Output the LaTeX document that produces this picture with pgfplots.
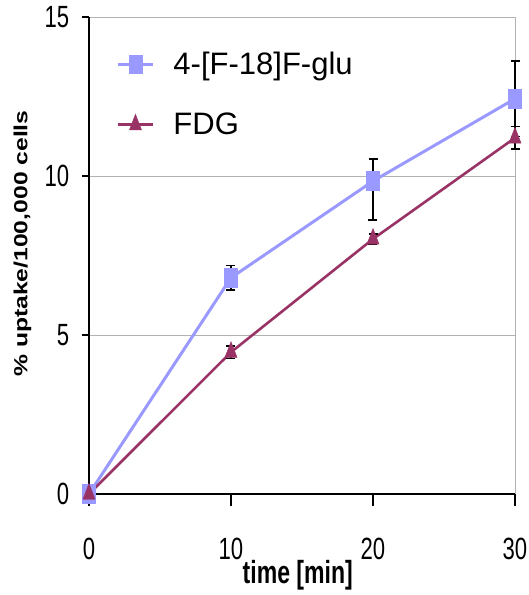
\documentclass[border=0pt]{standalone}
\usepackage{pgfplots}
\pgfplotsset{compat=1.18}
\usepackage{fontspec}
\setmainfont{Liberation Sans}
\newfontfamily\ticknarrow{Liberation Sans}[FakeStretch=0.72]
\newfontfamily\xlabfont{Liberation Sans}[FakeStretch=0.72]
\newfontfamily\ylabfont{Liberation Sans}[FakeStretch=1.3]
\definecolor{glu}{HTML}{9999FF}
\definecolor{fdg}{HTML}{993366}

\begin{document}
\begin{tikzpicture}
\useasboundingbox (-89pt,-101pt) rectangle (440pt,494pt);
\begin{axis}[
    scale only axis,
    width=426pt, height=477pt,
    xmin=0, xmax=30, ymin=0, ymax=15,
    xtick={0,10,20,30}, ytick={0,5,10,15},
    axis x line*=bottom, axis y line*=left,
    axis line style={black, line width=1.4pt},
    ymajorgrids,
    grid style={gray!60, line width=0.9pt},
    extra x ticks={30}, extra x tick labels={},
    extra x tick style={grid=major},
    tick align=outside,
    xtick style={black, line width=1.4pt, /pgfplots/major tick length=12pt},
    ytick style={black, line width=1.4pt, /pgfplots/major tick length=7pt},
    ticklabel style={font=\ticknarrow\fontsize{30.7}{32}\selectfont},
    xticklabel style={yshift=-36pt},
    yticklabel style={xshift=-12pt},
    /pgf/number format/assume math mode=true,
    xlabel={time [min]},
    xlabel style={font=\xlabfont\bfseries\fontsize{32}{34}\selectfont,
        at={(axis description cs:0.49,0)}, anchor=north, yshift=-66pt, inner sep=0pt},
    ylabel={\% uptake/100,000 cells},
    ylabel style={font=\ylabfont\bfseries\fontsize{19}{21}\selectfont,
        at={(axis description cs:-0.156,0.525)}, anchor=center, rotate=0},
    legend style={draw=none, fill=none, at={(axis description cs:0.057,0.935)},
        anchor=north west, font=\fontsize{31}{36}\selectfont, row sep=33pt},
    legend cell align=left,
    legend image code/.code={\draw[mark repeat=2,mark phase=2] plot coordinates {(0pt,0pt) (17.5pt,0pt) (35pt,0pt)};},
    clip=false,
]
\addplot[glu, line width=3pt, mark=square*,
    mark options={solid, line width=0.4pt, mark size=6.5pt, yscale=1.45},
    error bars/.cd, y dir=both, y explicit,
    error bar style={black, line width=1.2pt},
    error mark options={black, line width=1.4pt, mark size=4.5pt, rotate=90}]
coordinates {
    (0,0) +- (0,0)
    (10,6.8) +- (0,0.38)
    (20,9.84) += (0,0.69) -= (0,1.22)
    (30,12.43) +- (0,1.19)
};
\addlegendentry{\hspace{17pt}4-[F-18]F-glu}
\addplot[fdg, line width=2.6pt, mark=triangle*,
    mark options={solid, line width=0.4pt, mark size=7pt, yscale=1.5},
    error bars/.cd, y dir=both, y explicit,
    error bar style={black, line width=1.2pt},
    error mark options={black, line width=1.4pt, mark size=4.5pt, rotate=90}]
coordinates {
    (0,0) +- (0,0)
    (10,4.46) +- (0,0.19)
    (20,8.02) +- (0,0.16)
    (30,11.2) +- (0,0.35)
};
\addlegendentry{\hspace{17pt}FDG}
\end{axis}
\end{tikzpicture}
\end{document}
